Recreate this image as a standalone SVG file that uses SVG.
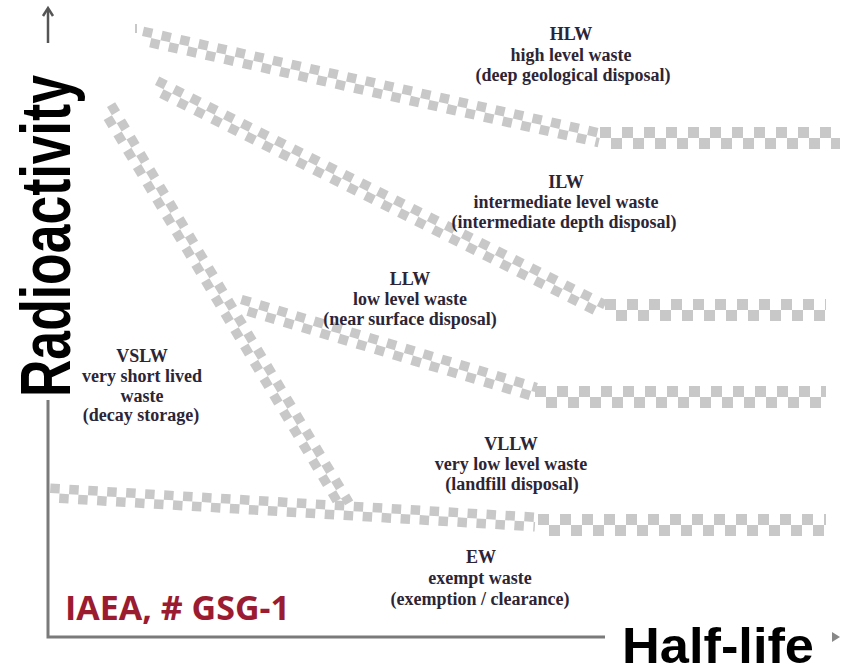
<svg xmlns="http://www.w3.org/2000/svg" width="845" height="668" viewBox="0 0 845 668">
<style>
.lbl{font-family:"Liberation Serif","Times New Roman",serif;font-weight:bold;font-size:18px;fill:#2d2535;text-anchor:middle}
.sq{fill:none;stroke:#c8c8c8;stroke-width:9.5;stroke-dasharray:9.5 9.5}
.sq2{stroke-dashoffset:9.5}
.hq{fill:none;stroke:#c8c8c8;stroke-width:11;stroke-dasharray:11 11}
.hq2{stroke-dashoffset:11}
.axis{stroke:#7a7a7a;stroke-width:3;fill:none}
</style>
<rect width="845" height="668" fill="#ffffff"/>
<g id="connectors">
  <!-- HLW band -->
  <g transform="translate(142,36) rotate(12.55)"><line class="sq" x1="0" y1="-4.75" x2="469" y2="-4.75"/><line class="sq sq2" x1="0" y1="4.75" x2="469" y2="4.75"/></g>
  <g transform="translate(600,138)"><line class="hq" x1="0" y1="-5.5" x2="240" y2="-5.5"/><line class="hq hq2" x1="0" y1="5.5" x2="240" y2="5.5"/></g>
  <line x1="136" y1="24" x2="136" y2="33" stroke="#c8c8c8" stroke-width="2"/>
  <!-- ILW band -->
  <g transform="translate(155,85) rotate(26.57)"><line class="sq" x1="0" y1="-4.75" x2="501" y2="-4.75"/><line class="sq sq2" x1="0" y1="4.75" x2="501" y2="4.75"/></g>
  <g transform="translate(605,310)"><line class="hq" x1="0" y1="-5.5" x2="221" y2="-5.5"/><line class="hq hq2" x1="0" y1="5.5" x2="221" y2="5.5"/></g>
  <!-- LLW band -->
  <g transform="translate(240,304) rotate(16.61)"><line class="sq" x1="0" y1="-4.75" x2="308" y2="-4.75"/><line class="sq sq2" x1="0" y1="4.75" x2="308" y2="4.75"/></g>
  <g transform="translate(535,397)"><line class="hq" x1="0" y1="-5.5" x2="291" y2="-5.5"/><line class="hq hq2" x1="0" y1="5.5" x2="291" y2="5.5"/></g>
  <!-- VSLW band -->
  <g transform="translate(107,107) rotate(59.13)"><line class="sq" x1="0" y1="-4.75" x2="464" y2="-4.75"/><line class="sq sq2" x1="0" y1="4.75" x2="464" y2="4.75"/></g>
  <!-- EW band -->
  <g transform="translate(50,493) rotate(3.42)"><line class="sq" x1="0" y1="-4.75" x2="486" y2="-4.75"/><line class="sq sq2" x1="0" y1="4.75" x2="486" y2="4.75"/></g>
  <g transform="translate(538,525)"><line class="hq" x1="0" y1="-5.5" x2="288" y2="-5.5"/><line class="hq hq2" x1="0" y1="5.5" x2="288" y2="5.5"/></g>
</g>
<g id="axes">
  <path class="axis" d="M48,400 L48,637 L605,637"/>
  <line x1="48" y1="43" x2="48" y2="10" stroke="#555" stroke-width="2.5"/>
  <path d="M43,16 L48,8 L53,16" fill="none" stroke="#555" stroke-width="2.5"/>
  <path d="M832,632 L840,637 L832,642 Z" fill="#888"/>
  <text transform="translate(70,397) rotate(-90)" font-family="'Liberation Sans',Arial,sans-serif" font-weight="bold" font-size="70" fill="#000" textLength="322" lengthAdjust="spacingAndGlyphs">Radioactivity</text>
  <text x="622" y="663" font-family="'Liberation Sans',Arial,sans-serif" font-weight="bold" font-size="50" fill="#000" textLength="192" lengthAdjust="spacingAndGlyphs">Half-life</text>
  <text x="65" y="620" font-family="'Open Sans','Noto Sans',sans-serif" font-weight="bold" font-size="34" fill="#9b1c31" textLength="225" lengthAdjust="spacingAndGlyphs">IAEA, # GSG-1</text>
</g>
<g id="HLW"><text class="lbl" x="571" y="40">HLW</text><text class="lbl" x="571" y="61">high level waste</text><text class="lbl" x="573" y="81">(deep geological disposal)</text></g>
<g id="ILW"><text class="lbl" x="566" y="188">ILW</text><text class="lbl" x="566" y="208">intermediate level waste</text><text class="lbl" x="564" y="228">(intermediate depth disposal)</text></g>
<g id="LLW"><text class="lbl" x="410" y="285">LLW</text><text class="lbl" x="410" y="305">low level waste</text><text class="lbl" x="410" y="325">(near surface disposal)</text></g>
<g id="VSLW"><text class="lbl" x="142" y="362">VSLW</text><text class="lbl" x="142" y="382">very short lived</text><text class="lbl" x="142" y="402">waste</text><text class="lbl" x="141" y="421">(decay storage)</text></g>
<g id="VLLW"><text class="lbl" x="511" y="450">VLLW</text><text class="lbl" x="511" y="470">very low level waste</text><text class="lbl" x="512" y="490">(landfill disposal)</text></g>
<g id="EW"><text class="lbl" x="481" y="563">EW</text><text class="lbl" x="480" y="584">exempt waste</text><text class="lbl" x="480" y="605">(exemption / clearance)</text></g>
</svg>
